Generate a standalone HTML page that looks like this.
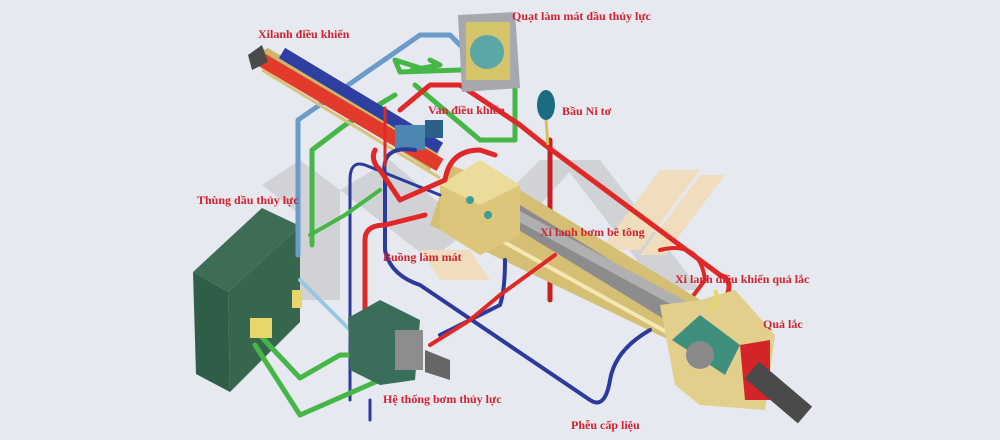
<!DOCTYPE html>
<html><head><meta charset="utf-8"><style>
html,body{margin:0;padding:0;background:#e6e9f0;}
svg{display:block}
text{font-family:"Liberation Serif",serif;font-size:12px;fill:#cf2330;font-weight:bold;}
</style></head><body>
<svg width="1000" height="440" viewBox="0 0 1000 440" xmlns="http://www.w3.org/2000/svg">
<rect width="1000" height="440" fill="#e6e9f0"/>
<!-- watermark -->
<g opacity="0.9">
<polygon points="262,185 300,160 340,190 340,300 300,300 300,215" fill="#cfd0d3"/>
<polygon points="340,190 390,160 470,230 430,260" fill="#cfd0d3"/>
<polygon points="470,230 540,160 580,160 500,250" fill="#cfd0d3"/>
<polygon points="560,160 600,160 700,290 660,290" fill="#cfd0d3"/>
<polygon points="660,170 700,170 640,250 600,250" fill="#f1dcb8"/>
<polygon points="700,175 725,175 665,255 640,255" fill="#f1dcb8"/>
<polygon points="420,250 470,250 490,280 440,280" fill="#f1dcb8"/>
</g>
<!-- tank -->
<polygon points="193,272 262,208 300,226 228,292" fill="#3d6e55"/>
<polygon points="193,272 228,292 230,392 196,374" fill="#2f5e48"/>
<polygon points="228,292 300,226 300,322 230,392" fill="#37664f"/>
<!-- pipes behind -->
<g fill="none" stroke-linecap="round" stroke-linejoin="round">
<path d="M298,255 V120 L420,35 H450 L470,55" stroke="#6b9bc8" stroke-width="5"/>
<path d="M312,245 V150 L345,125 L395,95 M412,70 L440,65 L430,60" stroke="#46b646" stroke-width="5"/>
<path d="M420,68 L395,60 L400,72 L460,70 L515,60 V140 L480,140 L415,85" stroke="#46b646" stroke-width="5"/>
<path d="M515,95 V140" stroke="#46b646" stroke-width="5"/>
<path d="M400,110 L430,85 H460 L520,125 L545,145" stroke="#e02828" stroke-width="5"/>
<path d="M550,140 V300" stroke="#c52020" stroke-width="5"/>
<path d="M545,145 L720,275 Q735,280 725,300" stroke="#e02828" stroke-width="5"/>
<path d="M660,250 Q700,240 705,280 L690,300" stroke="#e02828" stroke-width="4"/>
</g>
<!-- control cylinders -->
<polygon points="252,55 268,48 440,150 430,170" fill="#cdb56b"/>
<line x1="262" y1="60" x2="440" y2="165" stroke="#e33b2b" stroke-width="14"/>
<line x1="282" y1="53" x2="440" y2="148" stroke="#2e3fa2" stroke-width="12"/>
<line x1="262" y1="70" x2="440" y2="178" stroke="#d8c178" stroke-width="3"/>
<polygon points="248,55 262,45 268,62 252,70" fill="#4a4a4a"/>
<!-- main barrel -->
<polygon points="450,165 520,190 725,315 690,350 430,225" fill="#d5bf74"/>
<polygon points="470,200 520,205 712,322 690,335" fill="#8c8c8c"/>
<line x1="455" y1="215" x2="690" y2="345" stroke="#f3e8b4" stroke-width="4"/>
<line x1="480" y1="195" x2="710" y2="320" stroke="#b0b0b0" stroke-width="10"/>
<!-- cooling chamber box -->
<polygon points="440,185 480,160 520,185 520,235 480,255 440,230" fill="#ddc67c"/>
<polygon points="440,185 480,160 520,185 480,205" fill="#ecdc9c"/>
<circle cx="470" cy="200" r="4" fill="#3d9d9a"/><circle cx="488" cy="215" r="4" fill="#3d9d9a"/>
<!-- cooler fan -->
<polygon points="458,15 515,12 520,88 462,92" fill="#a7a8ad"/>
<rect x="466" y="22" width="44" height="58" fill="#d4c46a"/>
<circle cx="487" cy="52" r="17" fill="#5aa7a5"/>
<!-- nitrogen bottle -->
<ellipse cx="546" cy="105" rx="9" ry="15" fill="#1d6b80"/>
<line x1="546" y1="120" x2="548" y2="145" stroke="#d8c15b" stroke-width="3"/>
<!-- valves -->
<rect x="395" y="125" width="30" height="25" fill="#4d86b0"/>
<rect x="425" y="120" width="18" height="18" fill="#2c5f8a"/>
<!-- front pipes -->
<g fill="none" stroke-linecap="round" stroke-linejoin="round">
<path d="M350,400 V180 Q350,160 365,165 L440,195" stroke="#2b3a9c" stroke-width="3"/>
<path d="M415,150 Q380,145 385,175 V250 Q390,275 420,285 L590,400 Q605,410 610,380 Q615,350 650,330" stroke="#2b3a9c" stroke-width="4"/>
<path d="M440,335 L500,305 Q505,290 505,260" stroke="#2b3a9c" stroke-width="4"/>
<path d="M365,370 V240 Q365,225 385,225 L425,215" stroke="#e02828" stroke-width="5"/>
<path d="M430,345 L470,320 L500,295 L555,255" stroke="#e02828" stroke-width="4"/>
<path d="M375,150 Q370,160 380,170 L400,200 L445,180 Q450,150 480,150 L495,155" stroke="#e02828" stroke-width="5"/>
<path d="M385,108 V165" stroke="#e02828" stroke-width="3"/>
<path d="M255,330 L300,378 L340,355 L420,355" stroke="#46b646" stroke-width="5"/>
<path d="M255,345 L300,415 L380,380 L400,370" stroke="#46b646" stroke-width="5"/>
<path d="M300,280 L360,340" stroke="#9ac6e6" stroke-width="4"/>
<path d="M310,235 L345,215 L380,190" stroke="#46b646" stroke-width="4"/>
<path d="M370,400 V420" stroke="#2b3a9c" stroke-width="3"/>
</g>
<!-- pump -->
<polygon points="348,318 380,300 420,320 415,380 380,385 350,370" fill="#3b6e5a"/>
<rect x="395" y="330" width="28" height="40" fill="#8d8d8d"/>
<polygon points="425,350 450,360 450,380 425,372" fill="#666"/>
<rect x="250" y="318" width="22" height="20" fill="#e8d66a"/>
<rect x="292" y="290" width="10" height="18" fill="#e8d66a"/>
<!-- hopper -->
<polygon points="660,305 700,300 735,290 775,335 765,410 700,405 675,385" fill="#e3cf8c"/>
<polygon points="740,345 770,340 770,400 745,400" fill="#d3242a"/>
<polygon points="672,340 700,315 740,345 725,375" fill="#3f8f7d"/>
<circle cx="700" cy="355" r="14" fill="#8a8a8a"/>
<line x1="752" y1="370" x2="805" y2="415" stroke="#4a4a4a" stroke-width="22"/>
<path d="M715,290 Q720,300 710,310" stroke="#e8d66a" stroke-width="4" fill="none"/>
<!-- labels -->
<text x="512" y="20">Quạt làm mát dầu thủy lực</text>
<text x="258" y="38">Xilanh điều khiển</text>
<text x="428" y="114">Van điều khiển</text>
<text x="562" y="115">Bầu Ni tơ</text>
<text x="197" y="204">Thùng dầu thủy lực</text>
<text x="540" y="236">Xi lanh bơm bê tông</text>
<text x="383" y="261">Buồng làm mát</text>
<text x="675" y="283">Xi lanh điều khiển quả lắc</text>
<text x="763" y="328">Quả lắc</text>
<text x="383" y="403">Hệ thống bơm thủy lực</text>
<text x="571" y="429">Phễu cấp liệu</text>
</svg>
</body></html>
